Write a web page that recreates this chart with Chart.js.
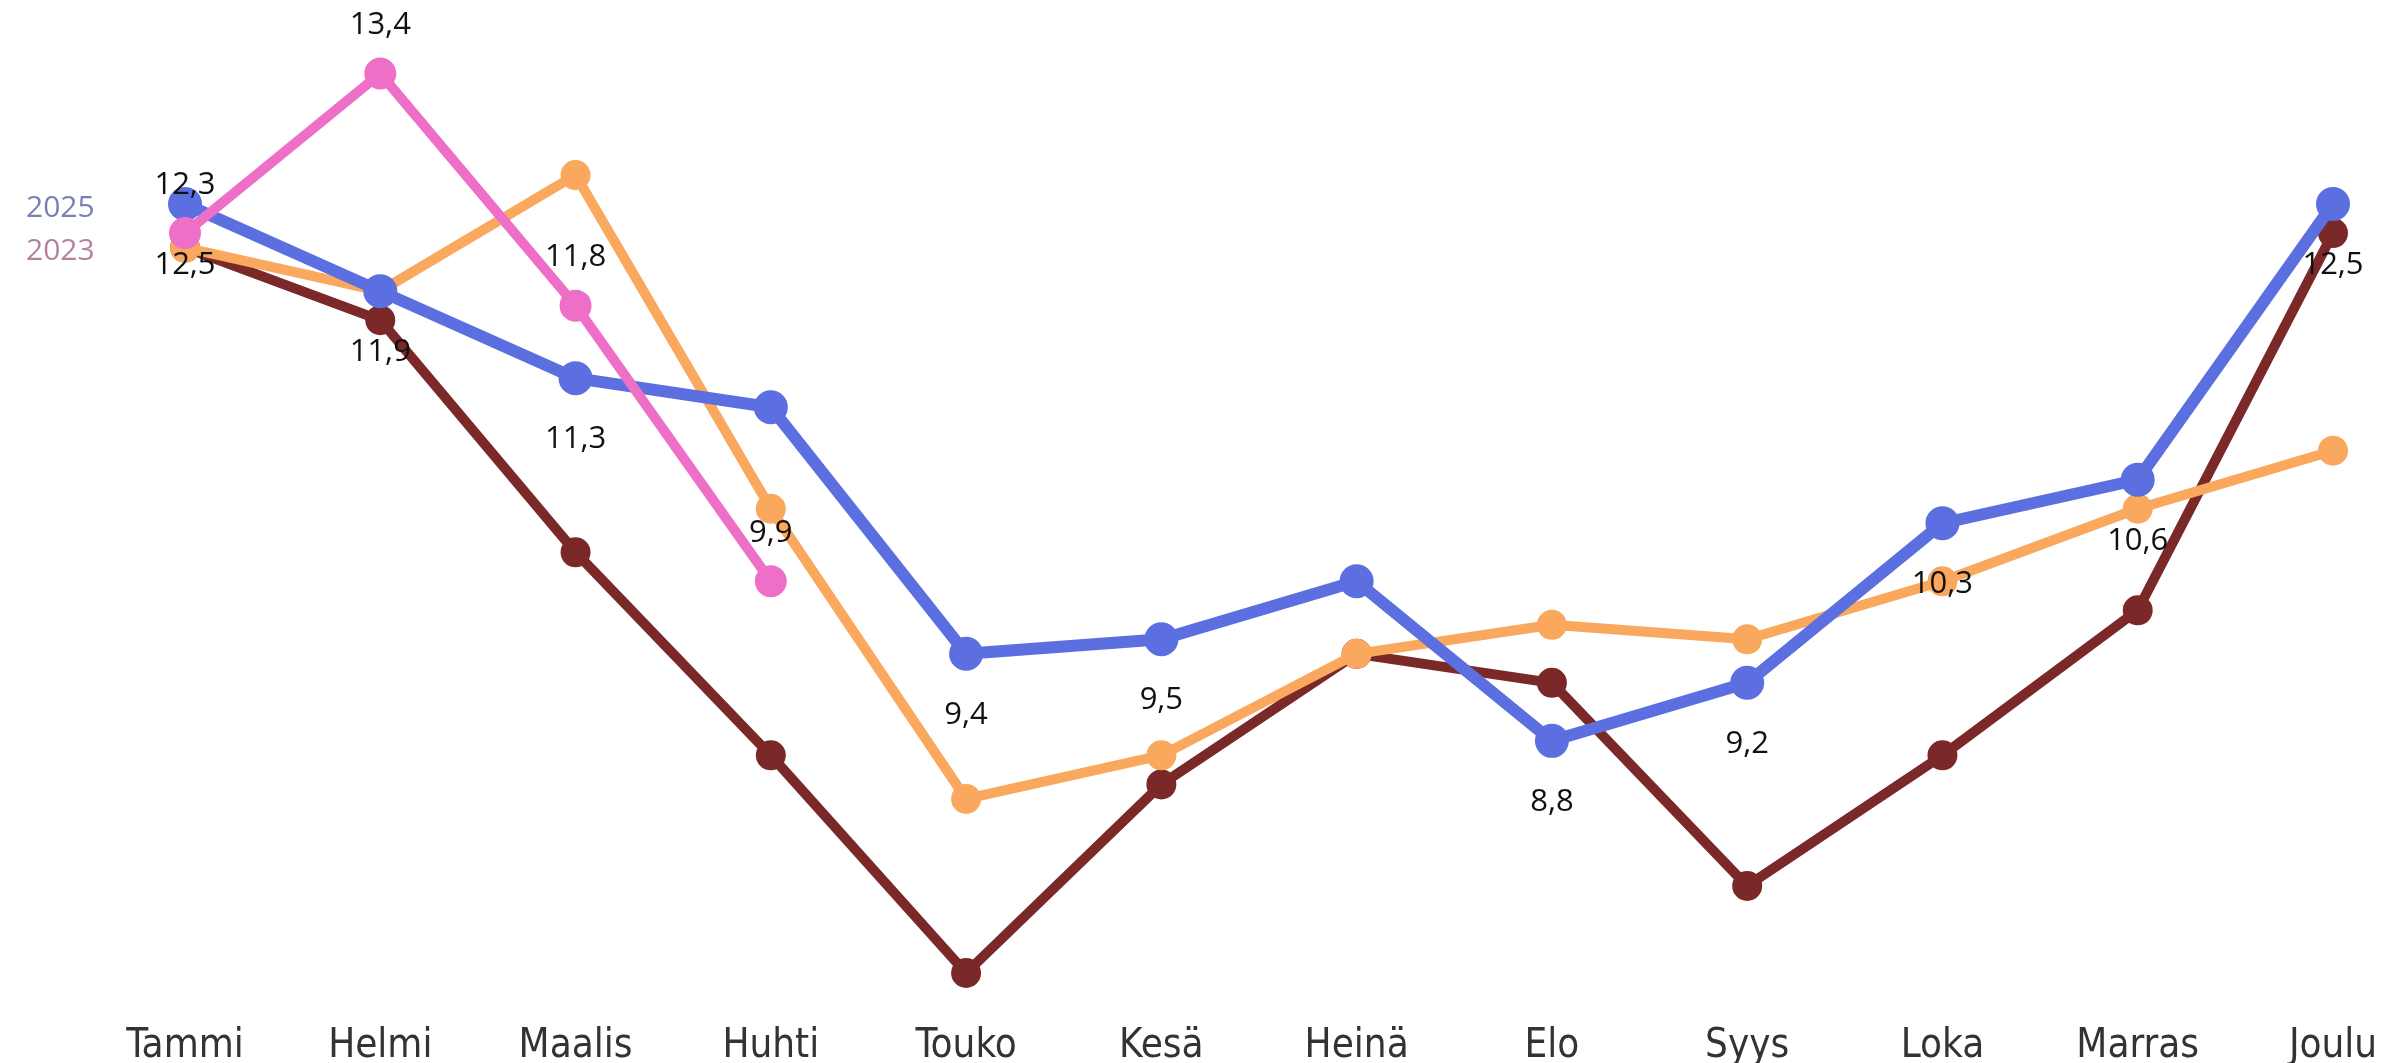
<!DOCTYPE html>
<html>
<head>
<meta charset="utf-8">
<script src="https://cdn.jsdelivr.net/npm/chart.js@4"></script>
<style>
html,body{margin:0;padding:0;background:#ffffff;}
#wrap{width:2385px;height:1063px;position:relative;}
</style>
</head>
<body>
<div id="wrap"><canvas id="c"></canvas></div>
<script>
// ---- data ----
const months = ['Tammi','Helmi','Maalis','Huhti','Touko','Kesä','Heinä','Elo','Syys','Loka','Marras','Joulu'];
const seriesNames = ['2025','2024','2023','2022'];
const values2025 = [12.5, 11.9, 11.3, 11.1, 9.4, 9.5, 9.9, 8.8, 9.2, 10.3, 10.6, 12.5];
const values2024 = [12.2, 11.9, 12.7, 10.4, 8.4, 8.7, 9.4, 9.6, 9.5, 9.9, 10.4, 10.8];
const values2023 = [12.3, 13.4, 11.8, 9.9, null, null, null, null, null, null, null, null];
const values2022 = [12.2, 11.7, 10.1, 8.7, 7.2, 8.5, 9.4, 9.2, 7.8, 8.7, 9.7, 12.3];
// which points carry a printed value label
const labelled2025 = [true, true, true, false, true, true, false, true, true, true, true, true];
const labelled2023 = [true, true, true, true, false, false, false, false, false, false, false, false];
// series-name captions shown at the left
const captionNames = ['2025', '2023'];

const fmt = v => v.toFixed(1).replace('.', ',');

const valueLabels = {
  id: 'valueLabels',
  afterDatasetsDraw(chart) {
    const ctx = chart.ctx;
    ctx.save();
    ctx.font = '31px "Open Sans", sans-serif';
    ctx.fillStyle = '#111111';
    ctx.textAlign = 'center';
    ctx.textBaseline = 'middle';
    chart.data.datasets.forEach((ds, di) => {
      if (!ds.labelFlags) return;
      const meta = chart.getDatasetMeta(di);
      meta.data.forEach((pt, i) => {
        if (!ds.labelFlags[i] || ds.data[i] == null) return;
        ctx.fillText(fmt(ds.data[i]), pt.x, pt.y + ds.labelDy);
      });
    });
    ctx.restore();
  }
};

const captions = {
  id: 'captions',
  afterDraw(chart) {
    const ctx = chart.ctx;
    const y = chart.scales.y;
    const base = y.getPixelForValue(values2025[0]);
    ctx.save();
    ctx.font = '30px "Open Sans", sans-serif';
    ctx.textAlign = 'left';
    ctx.textBaseline = 'middle';
    ctx.fillStyle = '#7a80b6';
    ctx.fillText(captionNames[0], 26, base + 4);
    ctx.fillStyle = '#b6819f';
    ctx.fillText(captionNames[1], 26, base + 47);
    ctx.restore();
  }
};

new Chart(document.getElementById('c'), {
  type: 'line',
  data: {
    labels: months,
    datasets: [
      {
        label: seriesNames[0], data: values2025,
        borderColor: '#5b6fe0', backgroundColor: '#5b6fe0',
        borderWidth: 12, pointRadius: 11, pointHoverRadius: 11,
        order: 1, labelFlags: labelled2025, labelDy: 61
      },
      {
        label: seriesNames[1], data: values2024,
        borderColor: '#f9a85e', backgroundColor: '#f9a85e',
        borderWidth: 10, pointRadius: 10, pointHoverRadius: 10,
        order: 2
      },
      {
        label: seriesNames[2], data: values2023,
        borderColor: '#ee6fc8', backgroundColor: '#ee6fc8',
        borderWidth: 10, pointRadius: 11, pointHoverRadius: 11,
        order: 0, labelFlags: labelled2023, labelDy: -48
      },
      {
        label: seriesNames[3], data: values2022,
        borderColor: '#7b2828', backgroundColor: '#7b2828',
        borderWidth: 10, pointRadius: 10, pointHoverRadius: 10,
        order: 3
      }
    ]
  },
  options: {
    responsive: true,
    maintainAspectRatio: false,
    animation: false,
    clip: false,
    layout: { padding: { top: 30, left: 185, right: 52, bottom: 0 } },
    plugins: { legend: { display: false }, tooltip: { enabled: false } },
    elements: { line: { tension: 0, borderJoinStyle: 'round', borderCapStyle: 'round' }, point: { borderWidth: 0 } },
    scales: {
      x: {
        grid: { display: false, drawTicks: false },
        border: { display: false },
        afterFit(scale) { scale.height = 61; scale.paddingLeft = 0; scale.paddingRight = 0; },
        ticks: {
          padding: 25,
          color: '#333333',
          font: { family: '"DejaVu Sans Condensed", "DejaVu Sans", sans-serif', size: 40, lineHeight: 1.0 },
          maxRotation: 0, autoSkip: false
        }
      },
      y: {
        display: false,
        min: 7.0, max: 13.7
      }
    }
  },
  plugins: [valueLabels, captions]
});
</script>
</body>
</html>
